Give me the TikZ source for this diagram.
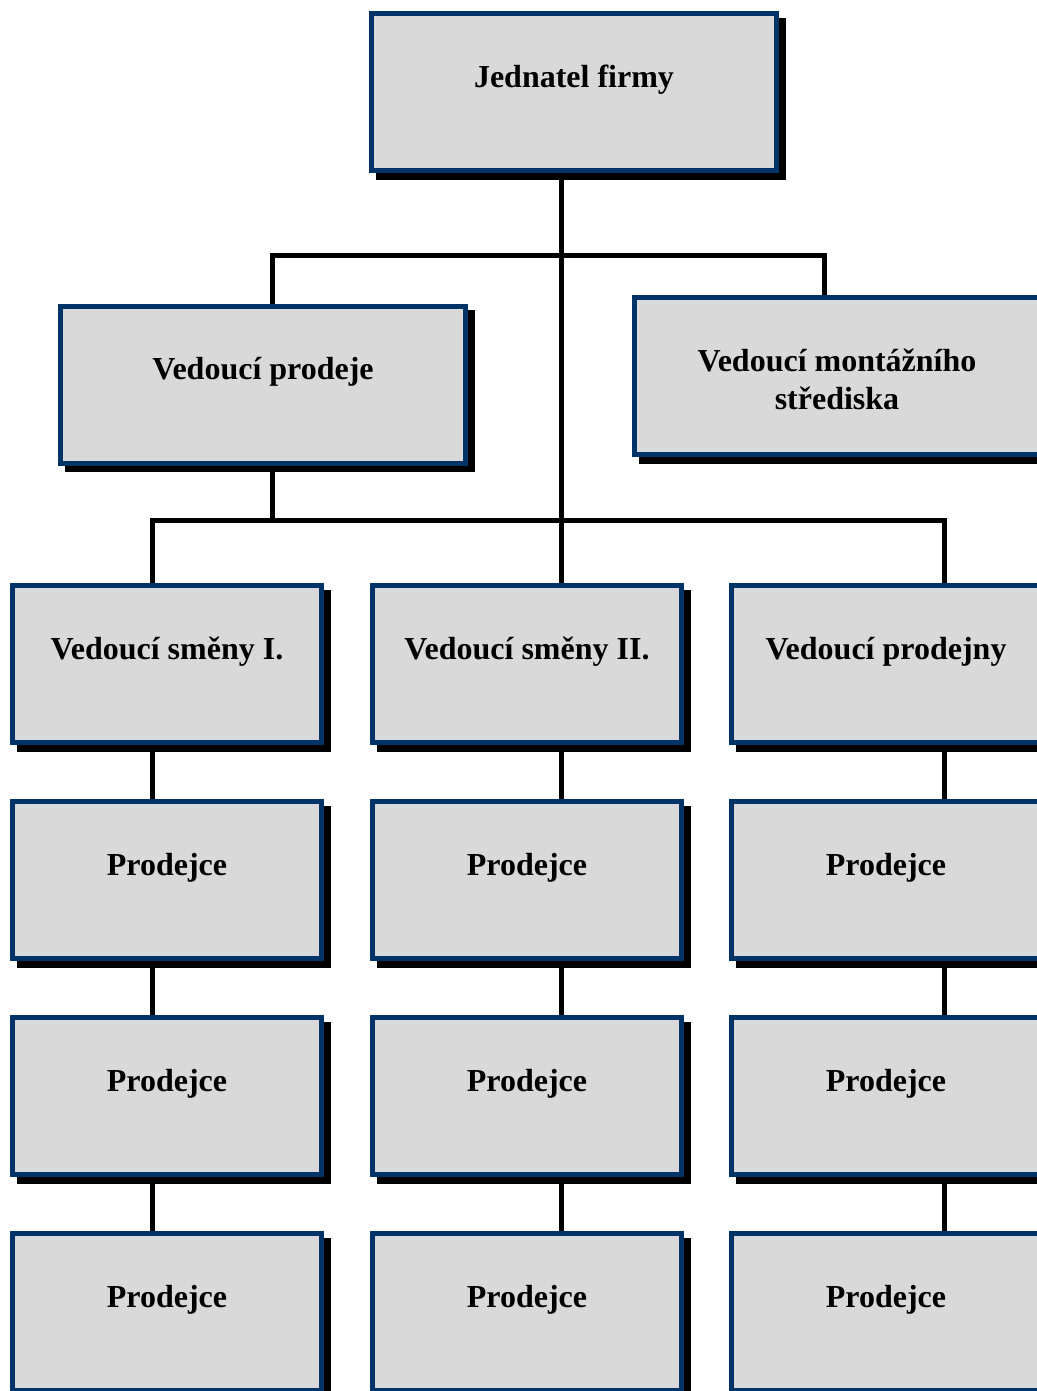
\documentclass[tikz,border=0pt]{standalone}
\usepackage{fontspec}
\setmainfont{Liberation Serif}
\usetikzlibrary{shadows}
\usetikzlibrary{positioning}
\usetikzlibrary{backgrounds}
\definecolor{boxnavy}{RGB}{0,51,102}
\definecolor{boxgray}{RGB}{217,217,217}
\tikzstyle{orgbox}=[rectangle,draw=boxnavy,fill=boxgray,line width=2.5pt,inner sep=0pt,text height=36.75pt,text depth=41.75pt,align=center,font=\fontsize{16}{19}\selectfont\bfseries,drop shadow={shadow xshift=3.25pt,shadow yshift=-3.25pt,fill=black,draw=black,line width=2.5pt,opacity=1}]
\tikzstyle{bigbox}=[orgbox,minimum width=202.5pt]
\tikzstyle{smallbox}=[orgbox,minimum width=154.5pt]
\tikzstyle{link} = [draw,line width=2.5pt]

\begin{document}
\begin{tikzpicture}[x=0.5pt,y=-0.5pt]
   \useasboundingbox (0,0) rectangle (1037,1391);

   % management
   \node[bigbox] (top) at (574,92.5) {Jednatel firmy};
   \node[bigbox] (vp) at (263,384.5) {Vedoucí prodeje};
   \node[bigbox,text height=55.75pt,text depth=22.75pt] (vm) at (837,376) {Vedoucí montážního\\střediska};

   \foreach \pos/\name/\label in {{(167,664)/v1/Vedoucí směny I.}, {(527,664)/v2/Vedoucí směny II.}, {(886,664)/v3/Vedoucí prodejny}}
        \node[smallbox] (\name) at \pos {\label};

   % sellers
   \foreach \col/\x in {1/167, 2/527, 3/886}
     \foreach \row/\y in {4/880, 5/1096, 6/1312}
        \node[smallbox] (p\row\col) at (\x,\y) {Prodejce};

   \coordinate (busl) at (272,256);
   \coordinate (busr) at (824,256);
   \coordinate (salesdrop) at (272,520);
   \foreach \col/\lx in {1/152, 2/561, 3/944}
        \coordinate (line\col) at (\lx,520);

   \begin{scope}[on background layer]
     \path[link] (top.south -| line2) -- (v2.north -| line2);
     \path[link] (vp.north -| busl) |- (busr) -- (vm.north -| busr);
     \path[link] (vp.south -| salesdrop) -- (salesdrop);
     \path[link] (v1.north -| line1) -- (line1) -- (line3) -- (v3.north -| line3);
     \foreach \col in {1,2,3}
       \foreach \a/\b in {v/p4, p4/p5, p5/p6}
          \path[link] (\a\col.south -| line\col) -- (\b\col.north -| line\col);
   \end{scope}
\end{tikzpicture}
\end{document}
